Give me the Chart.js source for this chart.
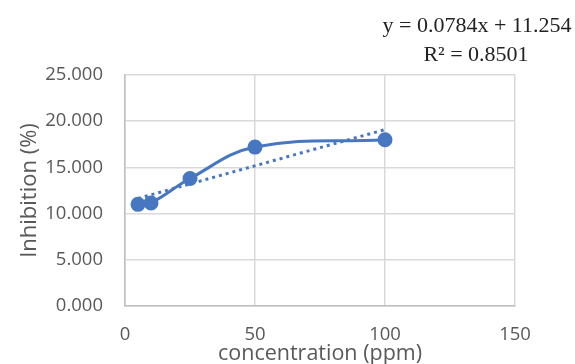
<!DOCTYPE html>
<html>
<head>
<meta charset="utf-8">
<script src="https://cdn.jsdelivr.net/npm/chart.js@4"></script>
<style>
  html, body { margin: 0; padding: 0; background: #fff; }
  #wrap { width: 575px; height: 364px; position: relative; }
</style>
</head>
<body>
<div id="wrap"><canvas id="chart"></canvas></div>
<script>
// valores
const concentracao = [5, 10, 25, 50, 100];
const inibicao = [11.0, 11.15, 13.8, 17.2, 18.0];

// linha de tendencia (pontas)
const trendX = [5, 100];
const trendY = [11.646, 19.094];

const xTicks = [0, 50, 100, 150];
const yTicks = [0, 5, 10, 15, 20, 25];

const equacao = ['y = 0.0784x + 11.254', 'R\u00b2 = 0.8501'];

const azul = '#4677c0';
const cinza = '#595959';

const toPts = (xs, ys) => xs.map((x, i) => ({ x: x, y: ys[i] }));

// texto da equacao
const equacaoPlugin = {
    id: 'equacao',
    afterDraw(chart) {
        const ctx = chart.ctx;
        ctx.save();
        ctx.fillStyle = '#222';
        ctx.font = '22px "Liberation Serif", serif';
        ctx.textAlign = 'center';
        ctx.textBaseline = 'middle';
        ctx.fillText(equacao[0], 477, 26);
        ctx.fillText(equacao[1], 476, 55);
        ctx.restore();
    }
};

new Chart(document.getElementById('chart'), {
    type: 'scatter',
    data: {
        datasets: [
            {
                label: 'Inhibition',
                data: toPts(concentracao, inibicao),
                showLine: true,
                borderColor: azul,
                backgroundColor: azul,
                borderWidth: 3,
                pointRadius: 6,
                pointHoverRadius: 6,
                tension: 0.4
            },
            {
                label: 'Linear',
                data: toPts(trendX, trendY),
                showLine: true,
                borderColor: azul,
                borderWidth: 3,
                borderDash: [3, 4],
                pointRadius: 0
            }
        ]
    },
    options: {
        responsive: true,
        maintainAspectRatio: false,
        animation: false,
        layout: { padding: { left: 17, right: 60, top: 75, bottom: 0 } },
        plugins: {
            legend: { display: false },
            tooltip: { enabled: false }
        },
        scales: {
            x: {
                type: 'linear',
                min: 0,
                max: 150,
                afterBuildTicks: s => { s.ticks = xTicks.map(v => ({ value: v })); },
                afterFit: s => { s.height = 58; },
                grid: { color: '#d9d9d9', lineWidth: 1.5, drawTicks: false },
                border: { color: '#bfbfbf', width: 1.5 },
                ticks: {
                    color: cinza,
                    padding: 18,
                    font: { family: '"Open Sans"', size: 18.5 }
                },
                title: {
                    display: true,
                    text: 'concentration (ppm)',
                    color: cinza,
                    padding: { top: 0, bottom: -3 },
                    font: { family: '"Open Sans"', size: 21.5 }
                }
            },
            y: {
                min: 0,
                max: 25,
                afterBuildTicks: s => { s.ticks = yTicks.map(v => ({ value: v })); },
                afterFit: s => { s.width = 108; },
                grid: { color: '#d9d9d9', lineWidth: 1.5, drawTicks: false },
                border: { color: '#bfbfbf', width: 1.5 },
                ticks: {
                    color: cinza,
                    padding: 22,
                    font: { family: '"Open Sans"', size: 18.5 },
                    callback: v => v.toFixed(3)
                },
                title: {
                    display: true,
                    text: 'Inhibition (%)',
                    color: cinza,
                    padding: 0,
                    font: { family: '"Open Sans"', size: 22 }
                }
            }
        }
    },
    plugins: [equacaoPlugin]
});
</script>
</body>
</html>
